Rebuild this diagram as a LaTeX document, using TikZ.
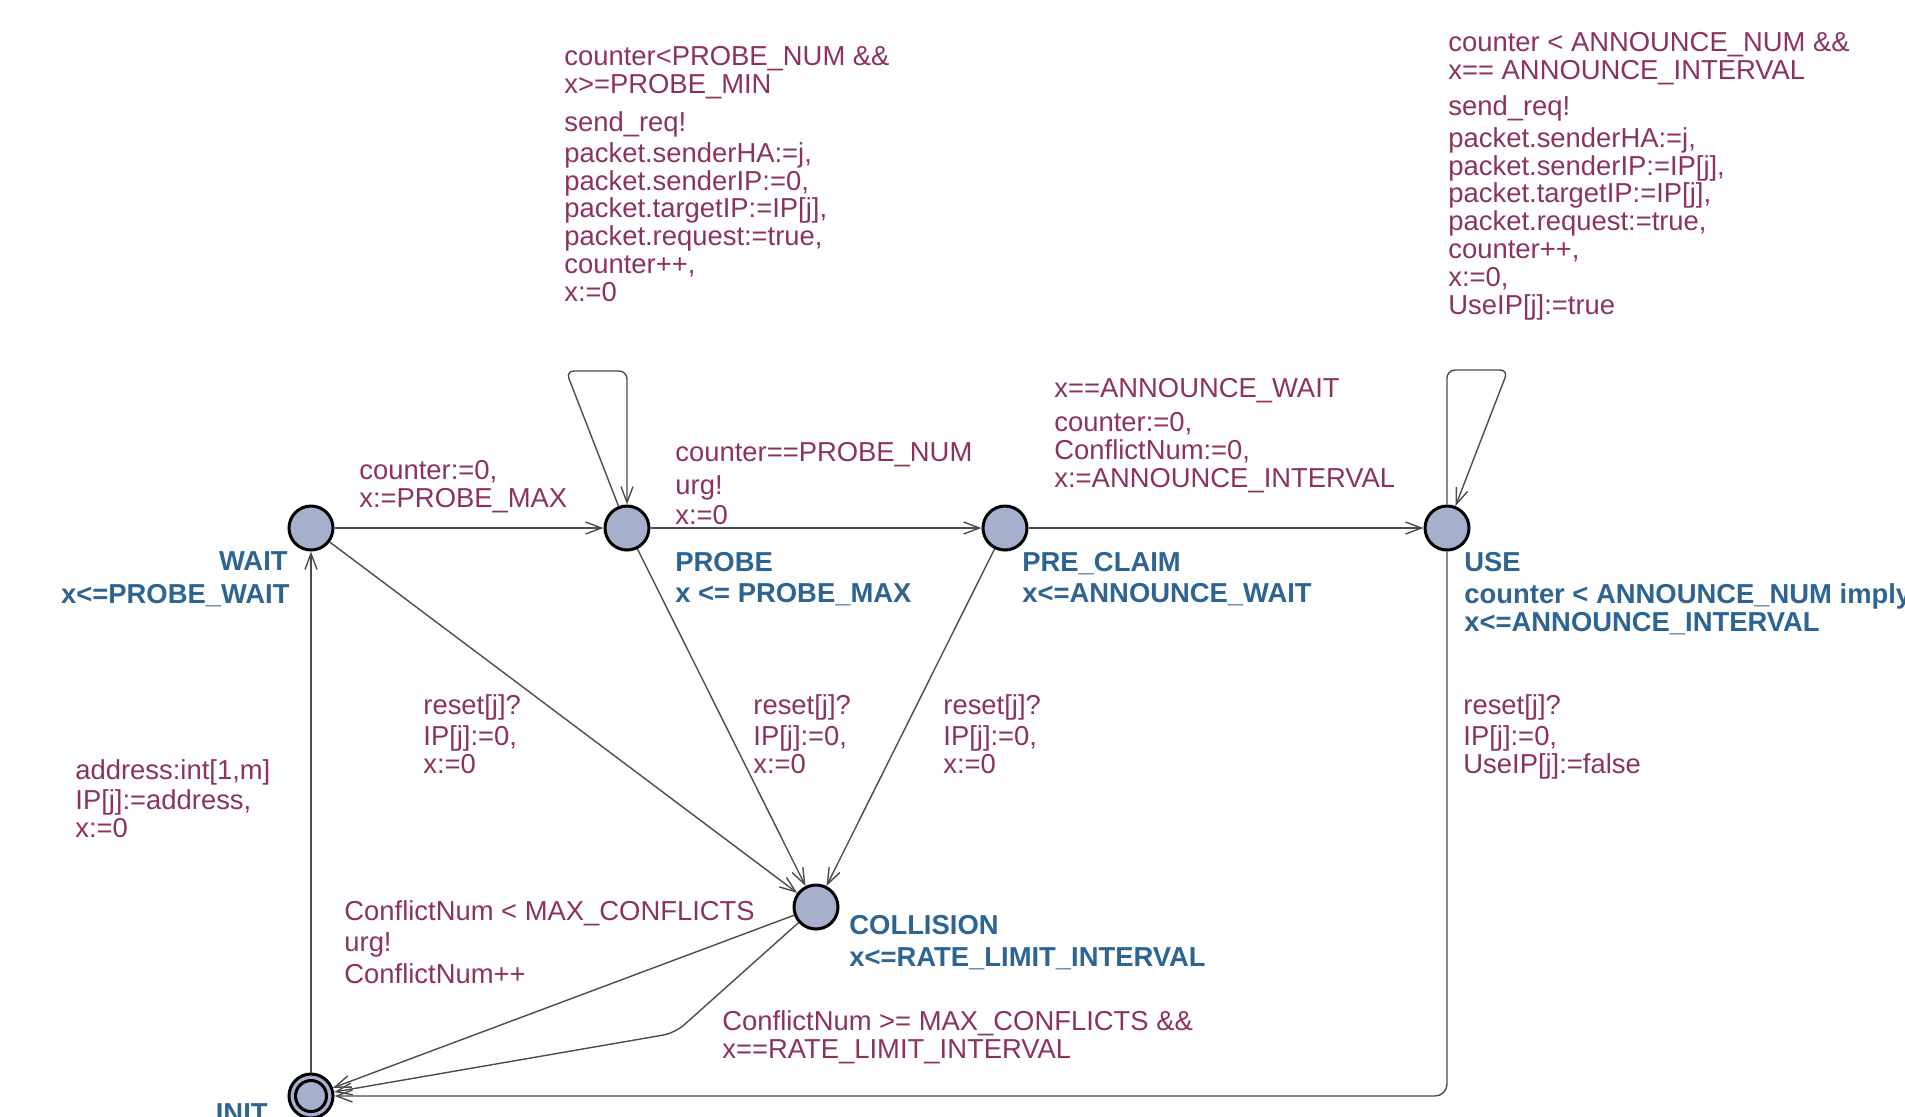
\documentclass[tikz,border=0pt]{standalone}
\usepackage{fontspec}
\setmainfont{Liberation Sans}
\usetikzlibrary{arrows.meta}
\definecolor{lblpurple}{RGB}{140,50,95}
\definecolor{locblue}{RGB}{45,100,145}
\definecolor{locfill}{RGB}{166,175,204}

\begin{document}
\begin{tikzpicture}[x=0.5pt,y=-0.5pt,
  loc/.style={circle,draw=black,line width=1.5pt,fill=locfill,minimum size=22pt,inner sep=0pt},
  edge/.style={draw=black!70,line width=0.7pt,-{Straight Barb[length=8pt,width=6pt]}},
  lbl/.style={font=\fontsize{13.7}{13.9}\selectfont,text=lblpurple,align=left,inner sep=0pt,anchor=north west},
  locname/.style={font=\fontsize{13.7}{13.9}\selectfont\bfseries,text=locblue,align=left,inner sep=0pt,anchor=north west}]
\useasboundingbox (0,0) rectangle (1905,1116);
% Locations
\node[loc] (wait) at (311,528) {};
\node[loc] (probe) at (627,528) {};
\node[loc] (preclaim) at (1005,528) {};
\node[loc] (use) at (1447,528) {};
\node[loc] (collision) at (816,907) {};
\node[loc] (init) at (311,1096) {};
\draw[line width=1.5pt] (init) circle (7.75pt);
% Location names and invariants
\node[locname,anchor=north east] (nwait) at (288,551) {WAIT};
\node[locname,anchor=north east] (iwait) at (290,584) {x<=PROBE\_WAIT};
\node[locname] (nprobe) at (675,552) {PROBE};
\node[locname] (iprobe) at (675,583) {x <= PROBE\_MAX};
\node[locname] (npreclaim) at (1022,552) {PRE\_CLAIM};
\node[locname] (ipreclaim) at (1022,583) {x<=ANNOUNCE\_WAIT};
\node[locname] (nuse) at (1464,552) {USE};
\node[locname] (iuse) at (1464,583) {counter < ANNOUNCE\_NUM imply\\x<=ANNOUNCE\_INTERVAL};
\node[locname] (ncollision) at (849,915) {COLLISION};
\node[locname] (icollision) at (849,947) {x<=RATE\_LIMIT\_INTERVAL};
\node[locname,anchor=north east] (ninit) at (268,1103) {INIT};
% Edges
\draw[edge] (init) -- (wait);
\draw[edge] (wait) -- (probe);
\draw[edge,rounded corners=4] (probe) -- (566,371) -- (627,371) -- (probe);
\draw[edge] (probe) -- (preclaim);
\draw[edge] (preclaim) -- (use);
\draw[edge,rounded corners=4] (use) -- (1447,370) -- (1508,370) -- (use);
\draw[edge,rounded corners=6] (use) -- (1447,1096) -- (init);
\draw[edge] (collision) -- (init);
\draw[edge,rounded corners=6] (collision) -- (675,1033) -- (init);
% Reset edges into COLLISION
\foreach \src/\lx in {wait/423,probe/753,preclaim/943} {
  \draw[edge] (\src) -- (collision);
  \node[lbl] (sync\src) at (\lx,694) {reset[j]?};
  \node[lbl] (upd\src) at (\lx,725) {IP[j]:=0,\\x:=0};
}
% Edge labels
\node[lbl] (selinit) at (75,759) {address:int[1,m]};
\node[lbl] (updinit) at (75,789) {IP[j]:=address,\\x:=0};
\node[lbl] (updwait) at (359,460) {counter:=0,\\x:=PROBE\_MAX};
\node[lbl] (grdloop) at (564,46) {counter<PROBE\_NUM \&\&\\x>=PROBE\_MIN};
\node[lbl] (syncloop) at (564,111) {send\_req!};
\node[lbl] (updloop) at (564,142) {packet.senderHA:=j,\\packet.senderIP:=0,\\packet.targetIP:=IP[j],\\packet.request:=true,\\counter++,\\x:=0};
\node[lbl] (grdprobe) at (675,442) {counter==PROBE\_NUM};
\node[lbl] (syncprobe) at (675,475) {urg!};
\node[lbl] (updprobe) at (675,505) {x:=0};
\node[lbl] (grdpre) at (1054,378) {x==ANNOUNCE\_WAIT};
\node[lbl] (updpre) at (1054,412) {counter:=0,\\ConflictNum:=0,\\x:=ANNOUNCE\_INTERVAL};
\node[lbl] (grduse) at (1448,32) {counter < ANNOUNCE\_NUM \&\&\\x== ANNOUNCE\_INTERVAL};
\node[lbl] (syncuse) at (1448,95) {send\_req!};
\node[lbl] (upduse) at (1448,127) {packet.senderHA:=j,\\packet.senderIP:=IP[j],\\packet.targetIP:=IP[j],\\packet.request:=true,\\counter++,\\x:=0,\\UseIP[j]:=true};
\node[lbl] (syncrst) at (1463,694) {reset[j]?};
\node[lbl] (updrst) at (1463,725) {IP[j]:=0,\\UseIP[j]:=false};
\node[lbl] (grdretry) at (344,900) {ConflictNum < MAX\_CONFLICTS};
\node[lbl] (syncretry) at (344,932) {urg!};
\node[lbl] (updretry) at (344,963) {ConflictNum++};
\node[lbl] (grdlimit) at (722,1010) {ConflictNum >= MAX\_CONFLICTS \&\&\\x==RATE\_LIMIT\_INTERVAL};
\end{tikzpicture}
\end{document}
